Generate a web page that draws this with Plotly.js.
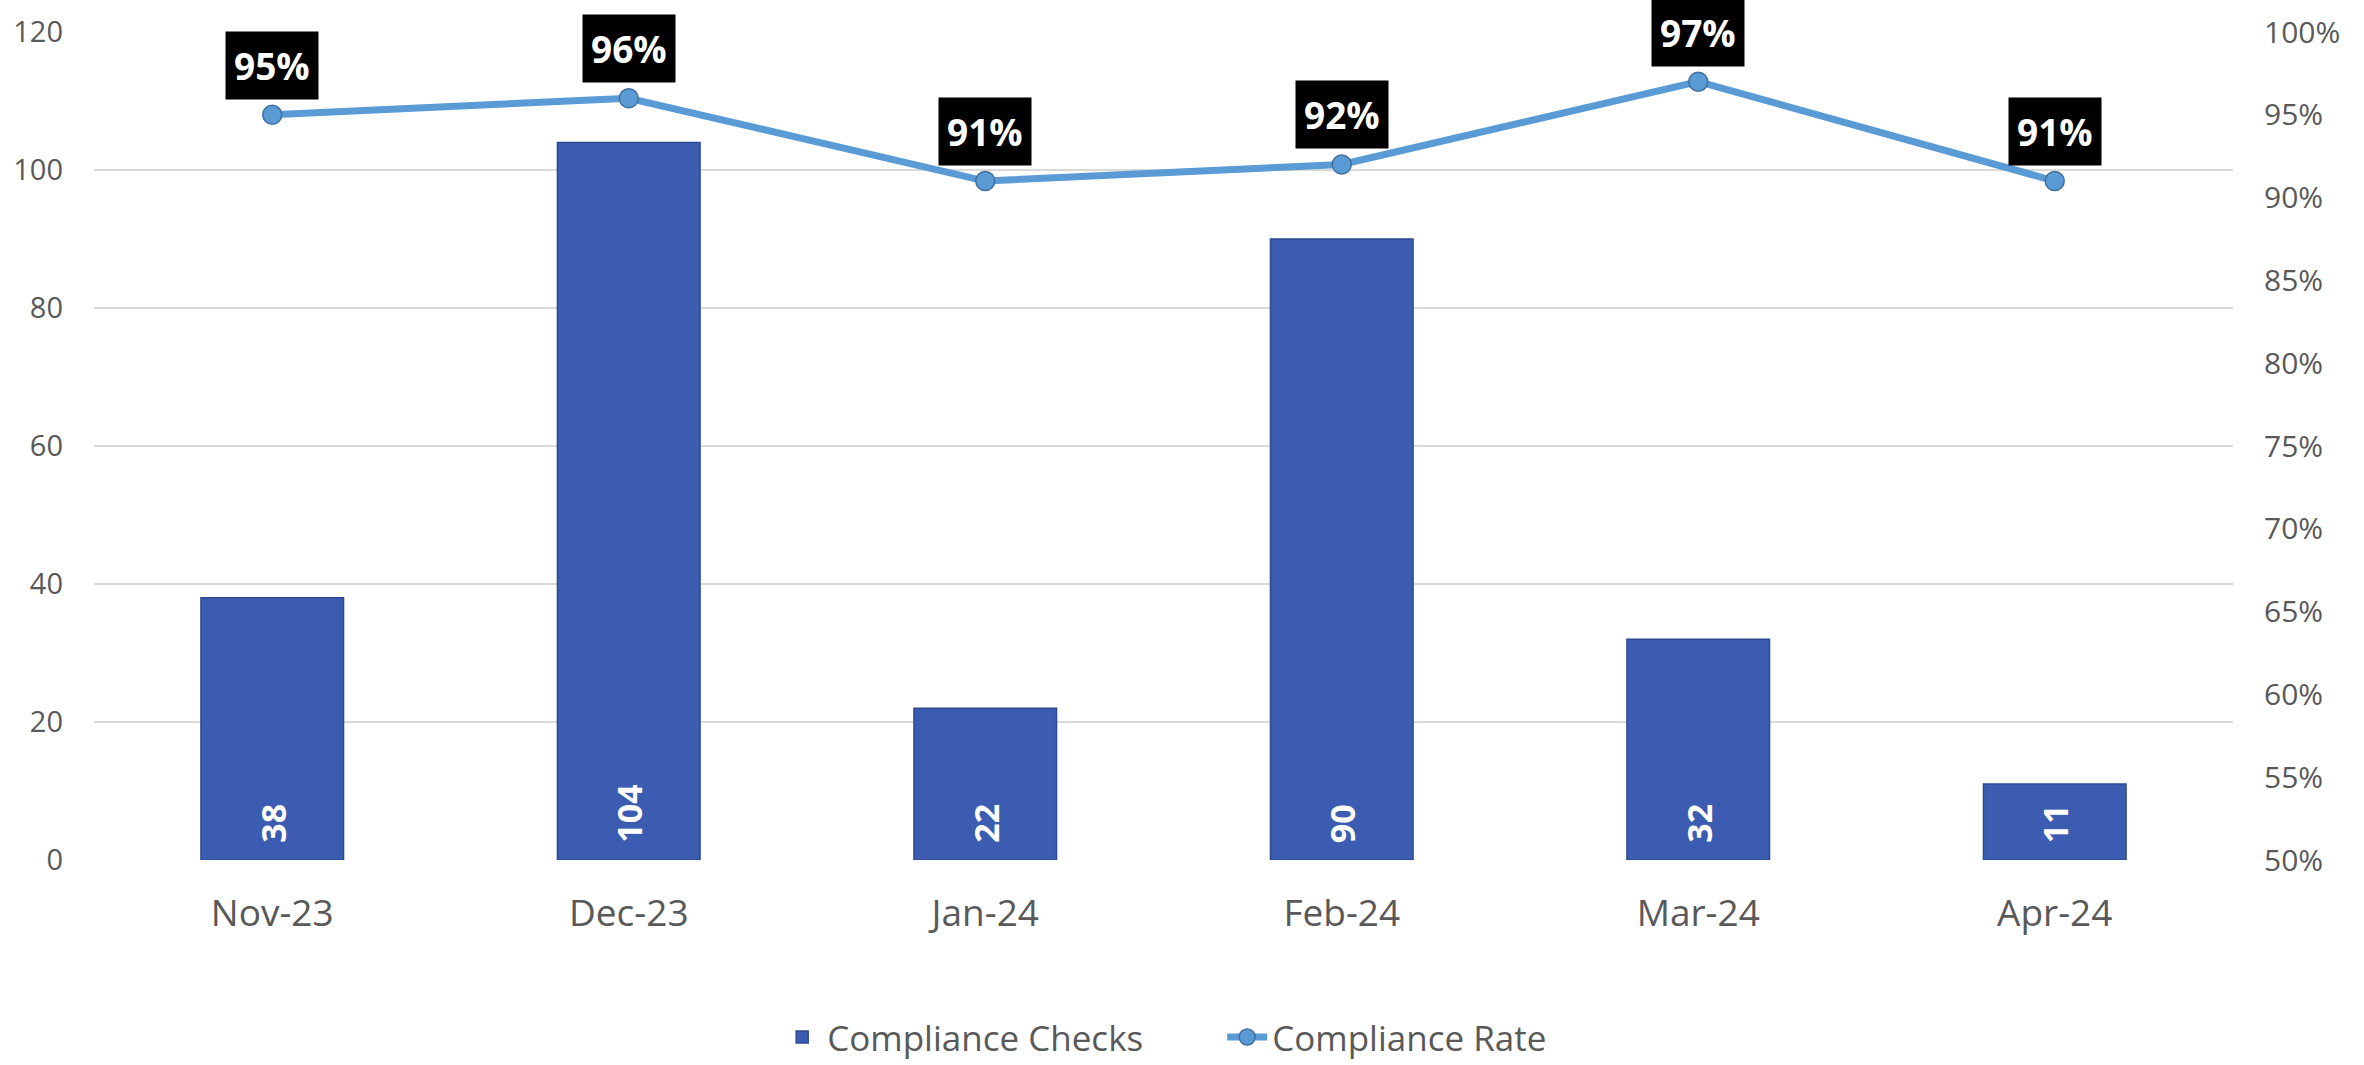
<!DOCTYPE html>
<html>
<head>
<meta charset="utf-8">
<script src="https://cdn.plot.ly/plotly-3.0.1.min.js"></script>
<style>
  html, body { margin: 0; padding: 0; background: #ffffff; }
  #myGraph { width: 2364px; height: 1065px; }
</style>
</head>
<body>
<div id="myGraph"></div>
<script>
// months on the x axis
const months = ["Nov-23", "Dec-23", "Jan-24", "Feb-24", "Mar-24", "Apr-24"];
// number of compliance checks per month (left axis)
const checks = [38, 104, 22, 90, 32, 11];
// compliance rate per month (right axis)
const rates = [0.95, 0.96, 0.91, 0.92, 0.97, 0.91];

const greyText = "#595959";
const fontName = "'Open Sans', 'Noto Sans', sans-serif";

//bar trace for the checks
const barTrace = {
  x: months,
  y: checks,
  type: "bar",
  name: "Compliance Checks",
  width: 0.4,
  marker: { color: "#3B5CB0", line: { color: "#2E4A8E", width: 1.5 } },
  hoverinfo: "x+y",
};

//line trace for the rate, drawn on the second y axis
const lineTrace = {
  x: months,
  y: rates,
  type: "scatter",
  mode: "lines+markers",
  name: "Compliance Rate",
  yaxis: "y2",
  line: { color: "#5B9BD5", width: 7 },
  marker: { color: "#5B9BD5", size: 19, line: { color: "#41719C", width: 1.5 } },
};

//labels: rotated counts at the base of each bar, boxed percentages above each point
let annotations = [];
months.forEach(function (m, i) {
  annotations.push({
    x: m,
    y: 0,
    xref: "x",
    yref: "y",
    text: String(checks[i]),
    textangle: -90,
    showarrow: false,
    xanchor: "center",
    yanchor: "bottom",
    yshift: 15,
    font: { family: fontName, size: 34, color: "#ffffff", weight: "bold" },
  });
  annotations.push({
    x: m,
    y: rates[i],
    xref: "x",
    yref: "y2",
    text: Math.round(rates[i] * 100) + "%",
    showarrow: false,
    xanchor: "center",
    yanchor: "bottom",
    yshift: 15,
    bgcolor: "#000000",
    borderpad: 8,
    font: { family: fontName, size: 37, color: "#ffffff", weight: "bold" },
  });
});

const layout = {
  width: 2364,
  height: 1065,
  margin: { l: 94, r: 131, t: 32, b: 205 },
  paper_bgcolor: "#ffffff",
  plot_bgcolor: "#ffffff",
  font: { family: fontName, color: greyText },
  bargap: 0.6,
  showlegend: true,
  legend: {
    orientation: "h",
    xref: "container",
    yref: "container",
    x: 0.517,
    xanchor: "center",
    y: 0.026,
    yanchor: "middle",
    itemwidth: 40,
    entrywidth: 390,
    font: { family: fontName, size: 35, color: greyText },
  },
  xaxis: {
    type: "category",
    showgrid: false,
    showline: false,
    zeroline: false,
    ticks: "",
    ticklabelstandoff: 28,
    tickfont: { family: fontName, size: 37, color: greyText },
  },
  yaxis: {
    range: [0, 120],
    dtick: 20,
    showgrid: true,
    gridcolor: "#D9D9D9",
    gridwidth: 2,
    zeroline: false,
    showline: false,
    ticks: "",
    ticklabelstandoff: 30,
    tickfont: { family: fontName, size: 29, color: greyText },
  },
  yaxis2: {
    overlaying: "y",
    side: "right",
    range: [0.5, 1.0],
    dtick: 0.05,
    tickformat: ".0%",
    showgrid: false,
    zeroline: false,
    showline: false,
    ticks: "",
    ticklabelstandoff: 30,
    tickfont: { family: fontName, size: 30, color: greyText },
  },
  annotations: annotations,
};

Plotly.newPlot("myGraph", [barTrace, lineTrace], layout, { displayModeBar: false });
</script>
</body>
</html>
